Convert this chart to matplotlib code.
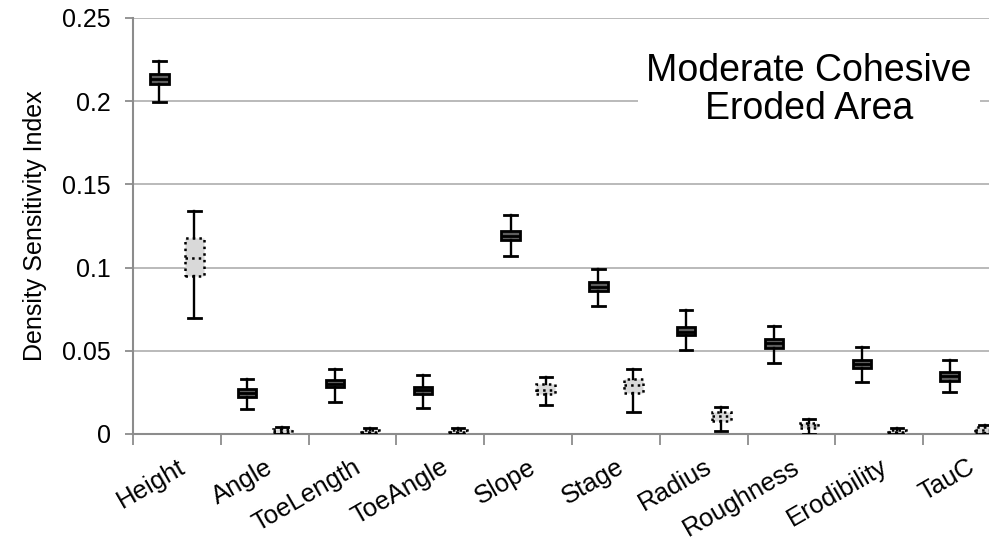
import matplotlib
matplotlib.use('Agg')
import matplotlib.pyplot as plt

plt.rcParams['font.family'] = ['Liberation Sans', 'DejaVu Sans']

cats = ['Height', 'Angle', 'ToeLength', 'ToeAngle', 'Slope', 'Stage',
        'Radius', 'Roughness', 'Erodibility', 'TauC']

# dark (solid) boxes
d_lo = [0.1997, 0.0152, 0.0192, 0.0156, 0.1070, 0.0771, 0.0505, 0.0427, 0.0314, 0.0252]
d_q1 = [0.2102, 0.0222, 0.0281, 0.0240, 0.1164, 0.0859, 0.0593, 0.0519, 0.0399, 0.0320]
d_md = [0.2133, 0.0245, 0.0302, 0.0262, 0.1192, 0.0885, 0.0615, 0.0547, 0.0423, 0.0347]
d_q3 = [0.2162, 0.0269, 0.0325, 0.0285, 0.1218, 0.0913, 0.0641, 0.0571, 0.0445, 0.0371]
d_hi = [0.2242, 0.0331, 0.0391, 0.0355, 0.1316, 0.0990, 0.0745, 0.0651, 0.0525, 0.0445]

# light (dotted) boxes
l_lo = [0.0695, 0.0000, 0.0000, 0.0000, 0.0174, 0.0130, 0.0018, 0.0000, 0.0000, 0.0000]
l_q1 = [0.0951, 0.0006, 0.0005, 0.0005, 0.0238, 0.0245, 0.0080, 0.0034, 0.0005, 0.0008]
l_md = [0.1056, 0.0017, 0.0015, 0.0015, 0.0264, 0.0293, 0.0107, 0.0052, 0.0015, 0.0025]
l_q3 = [0.1176, 0.0030, 0.0026, 0.0026, 0.0299, 0.0331, 0.0134, 0.0068, 0.0025, 0.0045]
l_hi = [0.1342, 0.0042, 0.0038, 0.0038, 0.0345, 0.0393, 0.0164, 0.0088, 0.0038, 0.0055]


def stats(lo, q1, md, q3, hi):
    return [dict(whislo=a, q1=b, med=c, q3=d, whishi=e, fliers=[])
            for a, b, c, d, e in zip(lo, q1, md, q3, hi)]


fig = plt.figure(figsize=(9.89, 5.40), dpi=100)
ax = fig.add_axes([0.1345, 0.1963, 0.8878, 0.7704])

n = len(cats)
centers = [i + 0.5 for i in range(n)]

ax.bxp(stats(d_lo, d_q1, d_md, d_q3, d_hi), positions=[c - 0.2 for c in centers],
       widths=0.21, patch_artist=True, showfliers=False,
       boxprops=dict(facecolor='#5e5e5e', edgecolor='black', linewidth=2.0),
       medianprops=dict(color='black', linewidth=2.0),
       whiskerprops=dict(color='black', linewidth=1.7),
       capprops=dict(color='black', linewidth=2.0), capwidths=0.14, zorder=3)

ax.bxp(stats(l_lo, l_q1, l_md, l_q3, l_hi), positions=[c + 0.2 for c in centers],
       widths=0.21, patch_artist=True, showfliers=False,
       boxprops=dict(facecolor='#d9d9d9', edgecolor='black', linewidth=1.8, linestyle=':'),
       medianprops=dict(color='black', linewidth=1.8, linestyle=':'),
       whiskerprops=dict(color='black', linewidth=1.7),
       capprops=dict(color='black', linewidth=2.0), capwidths=0.14, zorder=3)

ax.set_xlim(0, n)
ax.set_ylim(0, 0.25)
ax.set_yticks([0, 0.05, 0.1, 0.15, 0.2, 0.25])
ax.set_yticklabels(['0', '0.05', '0.1', '0.15', '0.2', '0.25'], fontsize=18)
ax.yaxis.grid(True, color='#b4b4b4', linewidth=1.3)
ax.set_axisbelow(True)

ax.set_xticks(range(n + 1))
ax.set_xticklabels([])
ax.set_xticks(centers, minor=True)
ax.set_xticklabels(cats, minor=True, rotation=30, ha='right',
                   rotation_mode='anchor', fontsize=18.5)
ax.tick_params(axis='x', which='minor', length=0, pad=15)
ax.tick_params(axis='x', which='major', length=8, color='#8c8c8c', width=1.3)
ax.tick_params(axis='y', length=6, color='#8c8c8c', width=1.3, pad=10)

for s in ['top', 'right']:
    ax.spines[s].set_visible(False)
for s in ['left', 'bottom']:
    ax.spines[s].set_color('#8c8c8c')
    ax.spines[s].set_linewidth(1.5)

ax.set_ylabel('Density Sensitivity Index', fontsize=18, labelpad=11)

ax.text(0.770, 0.826, 'Moderate Cohesive\nEroded Area', transform=ax.transAxes,
        ha='center', va='center', fontsize=27, linespacing=1.08,
        bbox=dict(facecolor='white', edgecolor='none', pad=6), zorder=5)

fig.savefig('out.png', dpi=100)
